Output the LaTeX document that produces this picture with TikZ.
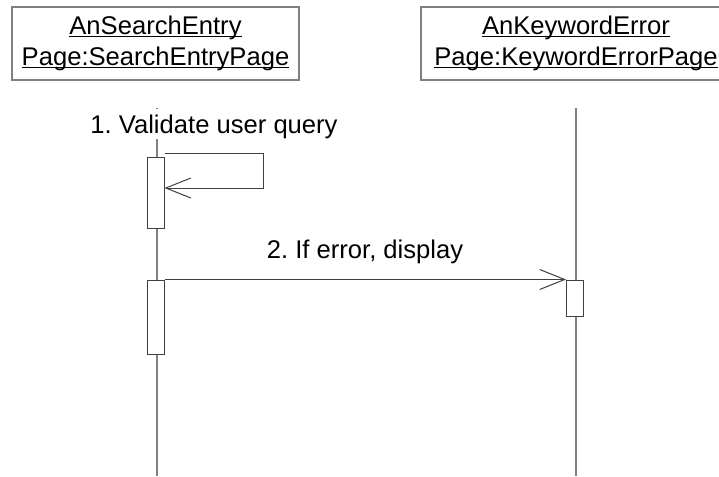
\documentclass[tikz,border=0pt]{standalone}
\usepackage{fontspec}
\setmainfont{Liberation Sans}
\usetikzlibrary{positioning,arrows.meta}
\frenchspacing

% underline that sits just under the baseline
\newcommand{\undl}[1]{\setbox0\hbox{#1}\rlap{\rule[-2.2pt]{\wd0}{1.3pt}}\box0}

\tikzset{
  umlfont/.style={font=\fontsize{25.6}{31}\selectfont},
  objbox/.style={draw=gray, line width=1.2pt, fill=white, umlfont, align=center,
    minimum height=73pt, inner sep=0pt},
  lifeline/.style={draw=gray, line width=1.3pt},
  actbox/.style={draw=black!75, line width=1pt, fill=white, minimum width=17pt, inner sep=0pt},
  msg/.style={draw=black!75, line width=1pt, -{Straight Barb[length=25pt,width=20pt,line width=1pt]}},
  msglabel/.style={umlfont, fill=white, inner xsep=1pt, inner ysep=0pt, text height=24pt, text depth=6pt}
}

\begin{document}
\begin{tikzpicture}[x=1pt,y=-1pt]
\useasboundingbox (0,0) rectangle (719,476);

% Objects (the right one runs past the page edge)
\node[objbox, minimum width=287pt] (searchpage) at (155.5,43.5)
  {\undl{AnSearchEntry}\\\undl{Page:SearchEntryPage}};
\node[objbox, minimum width=310pt] (errorpage) at (576,43.5)
  {\undl{AnKeywordError}\\\undl{Page:KeywordErrorPage}};

% Lifelines
\coordinate (searchtop) at (157,108);
\coordinate (searchend) at (157,476);
\coordinate (errortop) at (576,108);
\coordinate (errorend) at (576,476);
\draw[lifeline] (searchtop) -- (searchend);
\draw[lifeline] (errortop) -- (errorend);

% Activations
\node[actbox, minimum height=71pt] (validate) at (155.5,192.5) {};
\node[actbox, minimum height=74pt] (callerror) at (155.5,317) {};
\node[actbox, minimum height=36pt] (showerror) at (575,298) {};

% 1. self message
\coordinate (loopa) at (263,153);
\coordinate (loopb) at (263,188);
\draw[msg] (validate.east |- loopa) -- (loopa) -- (loopb) -- (validate.east |- loopb);
\node[msglabel, anchor=base] (validatelabel) at (214,133) {1. Validate user query};

% 2. message to error page
\draw[msg] (callerror.north east) -- (showerror.north west);
\node[umlfont, anchor=base] (errorlabel) at (365,258) {2. If error, display};

\end{tikzpicture}
\end{document}
